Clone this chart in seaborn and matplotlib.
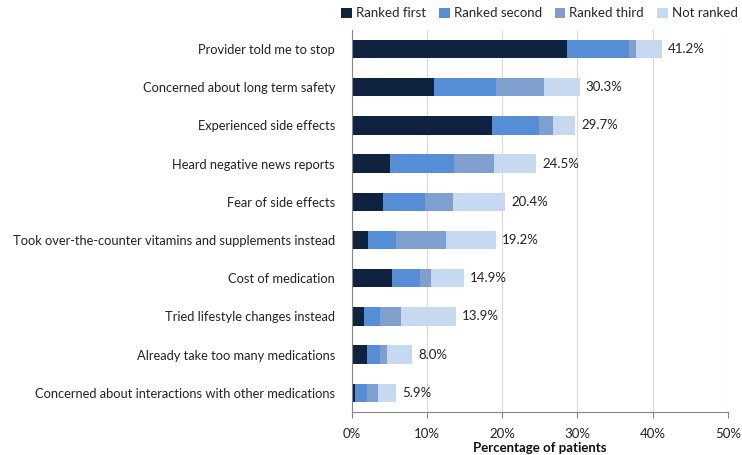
import numpy as np
import pandas as pd
import matplotlib
matplotlib.use("Agg")
import matplotlib.pyplot as plt
import seaborn as sns
from matplotlib.patches import Patch
from matplotlib.ticker import PercentFormatter

# --- data ---
reasons = [
    "Provider told me to stop",
    "Concerned about long term safety",
    "Experienced side effects",
    "Heard negative news reports",
    "Fear of side effects",
    "Took over-the-counter vitamins and supplements instead",
    "Cost of medication",
    "Tried lifestyle changes instead",
    "Already take too many medications",
    "Concerned about interactions with other medications",
]
ranked_first = [28.6, 10.9, 18.6, 5.1, 4.1, 2.2, 5.4, 1.7, 2.0, 0.4]
ranked_second = [8.2, 8.3, 6.3, 8.5, 5.7, 3.7, 3.7, 2.1, 1.8, 1.6]
ranked_third = [1.0, 6.4, 1.8, 5.3, 3.6, 6.6, 1.4, 2.7, 0.9, 1.5]
not_ranked = [3.4, 4.7, 3.0, 5.6, 7.0, 6.7, 4.4, 7.4, 3.3, 2.4]
totals = [41.2, 30.3, 29.7, 24.5, 20.4, 19.2, 14.9, 13.9, 8.0, 5.9]

series_names = ["Ranked first", "Ranked second", "Ranked third", "Not ranked"]
colors = ["#0f2340", "#558ed5", "#7f9fcf", "#c6d9f1"]

df = pd.DataFrame({
    "reason": reasons,
    "Ranked first": ranked_first,
    "Ranked second": ranked_second,
    "Ranked third": ranked_third,
    "Not ranked": not_ranked,
})
# cumulative ends for stacking
cum = df[series_names].cumsum(axis=1)

sns.set_style("white")
plt.rcParams["font.family"] = ["Lato", "DejaVu Sans"]

fig, ax = plt.subplots(figsize=(7.42, 4.55), dpi=100)
fig.subplots_adjust(left=0.474, right=0.981, top=0.934, bottom=0.095)

# draw from the longest cumulative segment down so the shorter ones sit on top
for name, col in reversed(list(zip(series_names, colors))):
    sns.barplot(x=cum[name], y=df["reason"], color=col, orient="h",
                width=0.48, saturation=1, ax=ax, linewidth=0)

for i, t in enumerate(totals):
    ax.text(t + 0.8, i, f"{t:.1f}%", va="center", ha="left", fontsize=9.5,
            color="#222222")

ax.set_xlim(0, 50)
ax.set_xticks(np.arange(0, 51, 10))
ax.xaxis.set_major_formatter(PercentFormatter(decimals=0))
ax.set_ylim(len(reasons) - 0.5, -0.5)
ax.grid(axis="x", color="#d9d9d9", linewidth=0.8)
ax.set_axisbelow(True)

for side in ["top", "right"]:
    ax.spines[side].set_visible(False)
for side in ["left", "bottom"]:
    ax.spines[side].set_color("#868686")
    ax.spines[side].set_linewidth(0.8)

# y ticks sit between categories in the reference
ax.set_yticks(np.arange(len(reasons)))
ax.set_yticklabels(reasons)
ax.tick_params(axis="y", length=0, pad=12, labelsize=9.3, labelcolor="#222222")
ax.set_yticks(np.arange(-0.5, len(reasons), 1), minor=True)
ax.tick_params(axis="y", which="minor", length=4, color="#868686", direction="out")
ax.tick_params(axis="x", length=4, color="#868686", labelsize=9.5,
               labelcolor="#222222", pad=8, bottom=True)

ax.set_xlabel("Percentage of patients", fontsize=9.5, fontweight="bold",
              color="#111111", labelpad=1)
ax.set_ylabel("")

handles = [Patch(facecolor=c, edgecolor="none") for c in colors]
fig.legend(handles, series_names, loc="upper right", ncol=4, frameon=False,
           bbox_to_anchor=(1.01, 1.01), fontsize=9.5, handlelength=0.8,
           handleheight=0.8, handletextpad=0.3, columnspacing=1.0)

plt.savefig("out.png", dpi=100)
plt.close()
